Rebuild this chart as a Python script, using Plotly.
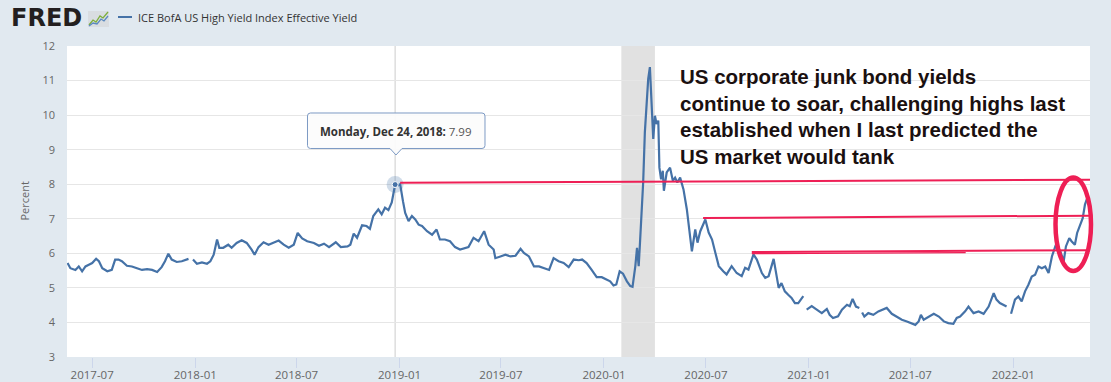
import plotly.graph_objects as go

# ---------------- data ----------------
dates = [
    "2017-05-18", "2017-05-23", "2017-06-01", "2017-06-07", "2017-06-13", "2017-06-19", "2017-06-25",
    "2017-07-01", "2017-07-08", "2017-07-13", "2017-07-19", "2017-07-28", "2017-08-05", "2017-08-11",
    "2017-08-17", "2017-08-23", "2017-09-01", "2017-09-10", "2017-09-19", "2017-09-28", "2017-10-07",
    "2017-10-16", "2017-10-25", "2017-11-02", "2017-11-08", "2017-11-14", "2017-11-20", "2017-11-29",
    "2017-12-08", "2017-12-20", "2017-12-25", "2017-12-28", "2018-01-04", "2018-01-13", "2018-01-22",
    "2018-01-28", "2018-02-03", "2018-02-09", "2018-02-13", "2018-02-20", "2018-03-01", "2018-03-07",
    "2018-03-16", "2018-03-25", "2018-04-03", "2018-04-12", "2018-04-17", "2018-04-24", "2018-05-03",
    "2018-05-12", "2018-05-21", "2018-05-30", "2018-06-08", "2018-06-17", "2018-06-26", "2018-07-03",
    "2018-07-11", "2018-07-20", "2018-08-01", "2018-08-10", "2018-08-19", "2018-08-28", "2018-09-09",
    "2018-09-18", "2018-09-30", "2018-10-05", "2018-10-11", "2018-10-17", "2018-10-26", "2018-11-03",
    "2018-11-09", "2018-11-15", "2018-11-24", "2018-11-30", "2018-12-06", "2018-12-12", "2018-12-18",
    "2018-12-24", "2018-12-27", "2019-01-02", "2019-01-07", "2019-01-11", "2019-01-17", "2019-01-23",
    "2019-01-29", "2019-02-04", "2019-02-10", "2019-02-19", "2019-02-28", "2019-03-08", "2019-03-14",
    "2019-03-23", "2019-04-01", "2019-04-10", "2019-04-19", "2019-04-28", "2019-05-04", "2019-05-13",
    "2019-05-22", "2019-06-01", "2019-06-09", "2019-06-18", "2019-06-21", "2019-06-30", "2019-07-09",
    "2019-07-18", "2019-07-27", "2019-08-05", "2019-08-11", "2019-08-20", "2019-08-29", "2019-09-07",
    "2019-09-16", "2019-09-25", "2019-10-03", "2019-10-12", "2019-10-21", "2019-10-30", "2019-11-08",
    "2019-11-17", "2019-11-23", "2019-12-01", "2019-12-10", "2019-12-19", "2019-12-28", "2020-01-06",
    "2020-01-12", "2020-01-18", "2020-01-23", "2020-01-29", "2020-02-04", "2020-02-11", "2020-02-17",
    "2020-02-21", "2020-02-26", "2020-02-29", "2020-03-03", "2020-03-05", "2020-03-08", "2020-03-11",
    "2020-03-14", "2020-03-17", "2020-03-20", "2020-03-23", "2020-03-26", "2020-03-29", "2020-04-01",
    "2020-04-04", "2020-04-07", "2020-04-09", "2020-04-12", "2020-04-15", "2020-04-17", "2020-04-22",
    "2020-04-28", "2020-05-03", "2020-05-07", "2020-05-11", "2020-05-16", "2020-05-22", "2020-05-28",
    "2020-06-03", "2020-06-06", "2020-06-12", "2020-06-16", "2020-06-21", "2020-06-30", "2020-07-06",
    "2020-07-12", "2020-07-18", "2020-07-24", "2020-08-01", "2020-08-07", "2020-08-16", "2020-08-25",
    "2020-09-03", "2020-09-09", "2020-09-15", "2020-09-24", "2020-09-30", "2020-10-09", "2020-10-15",
    "2020-10-21", "2020-10-30", "2020-11-03", "2020-11-08", "2020-11-13", "2020-11-19", "2020-11-25",
    "2020-12-01", "2020-12-07", "2020-12-13", "2020-12-22", "2020-12-25", "2020-12-28", "2021-01-06",
    "2021-01-15", "2021-01-24", "2021-02-02", "2021-02-07", "2021-02-13", "2021-02-22", "2021-03-01",
    "2021-03-10", "2021-03-15", "2021-03-20", "2021-03-26", "2021-04-01", "2021-04-03", "2021-04-06",
    "2021-04-10", "2021-04-17", "2021-04-26", "2021-05-05", "2021-05-14", "2021-05-20", "2021-05-29",
    "2021-06-07", "2021-06-16", "2021-06-25", "2021-07-04", "2021-07-10", "2021-07-16", "2021-07-20",
    "2021-07-25", "2021-08-03", "2021-08-12", "2021-08-21", "2021-08-30", "2021-09-07", "2021-09-16",
    "2021-09-22", "2021-09-28", "2021-10-07", "2021-10-13", "2021-10-22", "2021-10-31", "2021-11-09",
    "2021-11-18", "2021-11-27", "2021-12-02", "2021-12-08", "2021-12-14", "2021-12-20", "2021-12-24",
    "2021-12-28", "2022-01-04", "2022-01-10", "2022-01-16", "2022-01-22", "2022-01-28", "2022-02-03",
    "2022-02-09", "2022-02-15", "2022-02-21", "2022-02-27", "2022-03-05", "2022-03-11", "2022-03-17",
    "2022-03-26", "2022-04-01", "2022-04-05", "2022-04-11", "2022-04-15", "2022-04-21", "2022-04-25",
    "2022-05-01", "2022-05-05", "2022-05-09", "2022-05-13",
]

yields = [
    5.72, 5.57, 5.52, 5.62, 5.48, 5.62, 5.67,
    5.72, 5.84, 5.77, 5.57, 5.48, 5.52, 5.82,
    5.82, 5.77, 5.64, 5.62, 5.57, 5.52, 5.54,
    5.52, 5.46, 5.60, 5.77, 5.99, 5.82, 5.75,
    5.77, 5.84, None, 5.82, 5.70, 5.74, 5.70,
    5.77, 5.96, 6.40, 6.16, 6.16, 6.25, 6.16,
    6.30, 6.38, 6.30, 6.10, 5.96, 6.18, 6.32,
    6.25, 6.30, 6.37, 6.25, 6.16, 6.25, 6.59,
    6.43, 6.35, 6.30, 6.22, 6.28, 6.18, 6.32,
    6.18, 6.20, 6.25, 6.57, 6.45, 6.81, 6.79,
    6.71, 7.08, 7.27, 7.13, 7.32, 7.25, 7.47,
    7.99, 7.95, 8.00, 7.51, 7.17, 6.93, 7.08,
    6.98, 6.83, 6.79, 6.64, 6.54, 6.69, 6.40,
    6.40, 6.35, 6.18, 6.11, 6.16, 6.18, 6.45,
    6.35, 6.64, 6.25, 6.11, 5.86, 5.91, 5.96,
    5.91, 5.93, 6.13, 6.01, 5.91, 5.62, 5.62,
    5.57, 5.52, 5.86, 5.77, 5.72, 5.60, 5.82,
    5.80, 5.82, 5.72, 5.52, 5.31, 5.31, 5.23,
    5.19, 5.07, 5.10, 5.48, 5.41, 5.19, 5.05,
    5.03, 5.63, 6.16, 5.63, 6.21, 7.18, 8.05,
    9.50, 10.47, 11.05, 11.39, 10.37, 9.31, 9.98,
    9.74, 9.84, 8.48, 8.14, 8.39, 7.81, 8.34,
    8.48, 8.10, 8.19, 8.05, 8.19, 7.85, 7.27,
    6.50, 6.06, 6.69, 6.31, 6.64, 6.98, 6.60,
    6.40, 6.01, 5.63, 5.48, 5.39, 5.63, 5.43,
    5.34, 5.58, 5.53, 5.97, 5.82, 5.43, 5.29,
    5.34, 5.84, 5.43, 5.00, 5.14, 4.90, 4.80,
    4.71, 4.56, 4.56, 4.76, None, 4.37, 4.47,
    4.37, 4.27, 4.39, 4.22, 4.13, 4.18, 4.37,
    4.51, 4.47, 4.68, 4.46, 4.42, None, 4.29,
    4.17, 4.27, 4.22, 4.32, 4.37, 4.42, 4.25,
    4.17, 4.08, 4.03, 3.98, 3.93, 4.03, 4.22,
    4.08, 4.17, 4.25, 4.17, 4.03, 3.98, 3.96,
    4.13, 4.17, 4.32, 4.46, 4.27, 4.32, 4.25,
    4.46, 4.85, 4.66, 4.56, 4.51, 4.46, None,
    4.25, 4.66, 4.75, 4.61, 4.90, 5.09, 5.33,
    5.38, 5.62, 5.57, 5.62, 5.43, 5.91, 6.20,
    6.06, 5.77, 6.20, 6.44, 6.35, 6.25, 6.59,
    6.88, 7.02, 7.41, 7.60,
]

x_tick_vals = ["2017-07-01", "2018-01-01", "2018-07-01", "2019-01-01", "2019-07-01",
               "2020-01-01", "2020-07-01", "2021-01-01", "2021-07-01", "2022-01-01"]
x_tick_text = ["2017-07", "2018-01", "2018-07", "2019-01", "2019-07",
               "2020-01", "2020-07", "2021-01", "2021-07", "2022-01"]
y_tick_vals = [3, 4, 5, 6, 7, 8, 9, 10, 11, 12]
x_range = ["2017-05-17", "2022-05-18"]

recession_start = "2020-02-01"
recession_end = "2020-04-01"

hover_date = "2018-12-24"
hover_value = 7.99
hover_label_bold = "Monday, Dec 24, 2018:"

series_name = "ICE BofA US High Yield Index Effective Yield"
y_title = "Percent"
comment_lines = [
    "US corporate junk bond yields",
    "continue to soar, challenging highs last",
    "established when I last predicted the",
    "US market would tank",
]

# hand-drawn red levels: (start date, start level, end date, end level, width)
red_x0 = ["2019-01-02", "2020-06-26", "2020-09-21", "2020-09-21"]
red_y0 = [8.04, 7.02, 6.04, 5.99]
red_x1 = ["2022-05-18", "2022-05-18", "2022-05-18", "2021-10-08"]
red_y1 = [8.13, 7.09, 6.09, 6.02]
red_w = [2, 2, 2, 1.2]

# ---------------- layout helpers (pixel -> paper) ----------------
W, H = 1111, 382
L, R, T, B = 67, 1090, 46, 357


def px(p):
    return (p - L) / (R - L)


def py(p):
    return (B - p) / (B - T)


BLUE = "#4572A7"
RED = "#ee1f55"
GREY_TXT = "#666666"

fig = go.Figure()

fig.add_trace(go.Scatter(
    x=dates, y=yields, mode="lines", connectgaps=False,
    line=dict(color=BLUE, width=2.2), hoverinfo="skip",
))
fig.add_trace(go.Scatter(
    x=[hover_date], y=[hover_value], mode="markers",
    marker=dict(size=17, color="rgba(69,114,167,0.25)"), hoverinfo="skip",
))
fig.add_trace(go.Scatter(
    x=[hover_date], y=[hover_value], mode="markers",
    marker=dict(size=6, color=BLUE, line=dict(color="white", width=1)), hoverinfo="skip",
))

shapes = []
# recession shading
shapes.append(dict(type="rect", xref="x", yref="paper", x0=recession_start, x1=recession_end,
                   y0=0, y1=1, fillcolor="#e1e1e1", line=dict(width=0), layer="between"))
# crosshair
shapes.append(dict(type="line", xref="x", yref="paper", x0=hover_date, x1=hover_date,
                   y0=0, y1=1, line=dict(color="#cccccc", width=1), layer="between"))
# red hand-drawn lines
for a, b, c, d, w in zip(red_x0, red_y0, red_x1, red_y1, red_w):
    shapes.append(dict(type="line", xref="x", yref="y", x0=a, y0=b, x1=c, y1=d,
                       line=dict(color=RED, width=w), layer="above"))
# red ellipse
shapes.append(dict(type="circle", xref="paper", yref="paper",
                   x0=px(1055.5), x1=px(1091), y0=py(271), y1=py(177.5),
                   line=dict(color=RED, width=4.5), layer="above"))

# tooltip callout
bx0, bx1, by0, by1, r = 307.5, 485, 113, 148.5, 3
ax, aw, tip = 396, 6, 155
pts = [
    ("M", (bx0 + r, by0)), ("L", (bx1 - r, by0)), ("Q", (bx1, by0), (bx1, by0 + r)),
    ("L", (bx1, by1 - r)), ("Q", (bx1, by1), (bx1 - r, by1)), ("L", (ax + aw, by1)),
    ("L", (ax, tip)), ("L", (ax - aw, by1)), ("L", (bx0 + r, by1)),
    ("Q", (bx0, by1), (bx0, by1 - r)), ("L", (bx0, by0 + r)), ("Q", (bx0, by0), (bx0 + r, by0)),
]
path = ""
for item in pts:
    cmd = item[0]
    coords = " ".join(f"{px(x):.5f},{py(y):.5f}" for x, y in item[1:])
    path += f"{cmd}{coords} "
path += "Z"
shapes.append(dict(type="path", xref="paper", yref="paper", path=path,
                   fillcolor="rgba(252,252,252,0.92)", line=dict(color="#7d9ac4", width=1),
                   layer="above"))

# legend line in header
shapes.append(dict(type="line", xref="paper", yref="paper", x0=px(118), x1=px(132),
                   y0=py(17), y1=py(17), line=dict(color=BLUE, width=2)))


def pth(points):
    s = ""
    for i, (x, y) in enumerate(points):
        s += ("M" if i == 0 else "L") + f"{px(x):.5f},{py(y):.5f} "
    return s


# FRED icon (small chart glyph)
shapes.append(dict(type="rect", xref="paper", yref="paper", x0=px(88), x1=px(109),
                   y0=py(27), y1=py(11), fillcolor="#d9dde1", line=dict(width=0)))
shapes.append(dict(type="path", xref="paper", yref="paper",
                   path=pth([(89, 25), (93, 20), (96, 22), (100, 16), (103, 18), (108, 12)]),
                   line=dict(color="#7dae3c", width=1.3)))
shapes.append(dict(type="path", xref="paper", yref="paper",
                   path=pth([(89, 26), (93, 23), (97, 24), (101, 19), (104, 21), (108, 16)]),
                   line=dict(color="#5b8ac0", width=1.3)))

annotations = []
# tooltip text
annotations.append(dict(xref="paper", yref="paper", x=px(396), y=py(131), xanchor="center",
                        yanchor="middle", showarrow=False,
                        text=f"<b>{hover_label_bold}</b> <span style='color:#555555'>{hover_value:.2f}</span>",
                        font=dict(family="Open Sans", size=11.5, color="#333333")))
# big comment text
annotations.append(dict(xref="paper", yref="paper", x=px(678), y=py(62.5), xanchor="left",
                        yanchor="top", showarrow=False, align="left",
                        text="<b>" + "<br>".join(comment_lines) + "</b>",
                        font=dict(family="Liberation Sans", size=20.5, color="#1a1010")))
# FRED logo
annotations.append(dict(xref="paper", yref="paper", x=px(9), y=py(18), xanchor="left",
                        yanchor="middle", showarrow=False, text="<b>FRED</b>",
                        font=dict(family="DejaVu Sans", size=24, color="#231f20")))
# legend text
annotations.append(dict(xref="paper", yref="paper", x=px(136), y=py(17), xanchor="left",
                        yanchor="middle", showarrow=False, text=series_name,
                        font=dict(family="Open Sans", size=11, color="#333333")))
# y title
annotations.append(dict(xref="paper", yref="paper", x=px(24), y=py(201.5), xanchor="center",
                        yanchor="middle", showarrow=False, text=y_title, textangle=-90,
                        font=dict(family="Open Sans", size=11, color=GREY_TXT)))

fig.update_layout(
    width=W, height=H, autosize=False,
    margin=dict(l=L, r=W - R, t=T, b=H - B, pad=0, autoexpand=False),
    paper_bgcolor="#e1e9f0", plot_bgcolor="#ffffff",
    showlegend=False, hovermode=False,
    shapes=shapes, annotations=annotations,
    xaxis=dict(type="date", range=x_range, tickvals=x_tick_vals, ticktext=x_tick_text,
               showgrid=False, zeroline=False, showline=False, ticks="outside",
               ticklen=10, tickcolor="#ccd6eb", tickwidth=1, automargin=False,
               ticklabelstandoff=-3,
               tickfont=dict(family="Open Sans", size=11.5, color=GREY_TXT)),
    yaxis=dict(range=[3, 12], tickvals=y_tick_vals, showgrid=True, gridcolor="#e6e6e6",
               gridwidth=1, zeroline=False, showline=False, ticks="", automargin=False,
               ticklabelstandoff=11,
               tickfont=dict(family="Open Sans", size=11, color=GREY_TXT)),
)

fig.write_html("out.html", config={"displayModeBar": False, "staticPlot": True},
               post_script="document.body.style.margin='0';document.body.style.overflow='hidden';")
